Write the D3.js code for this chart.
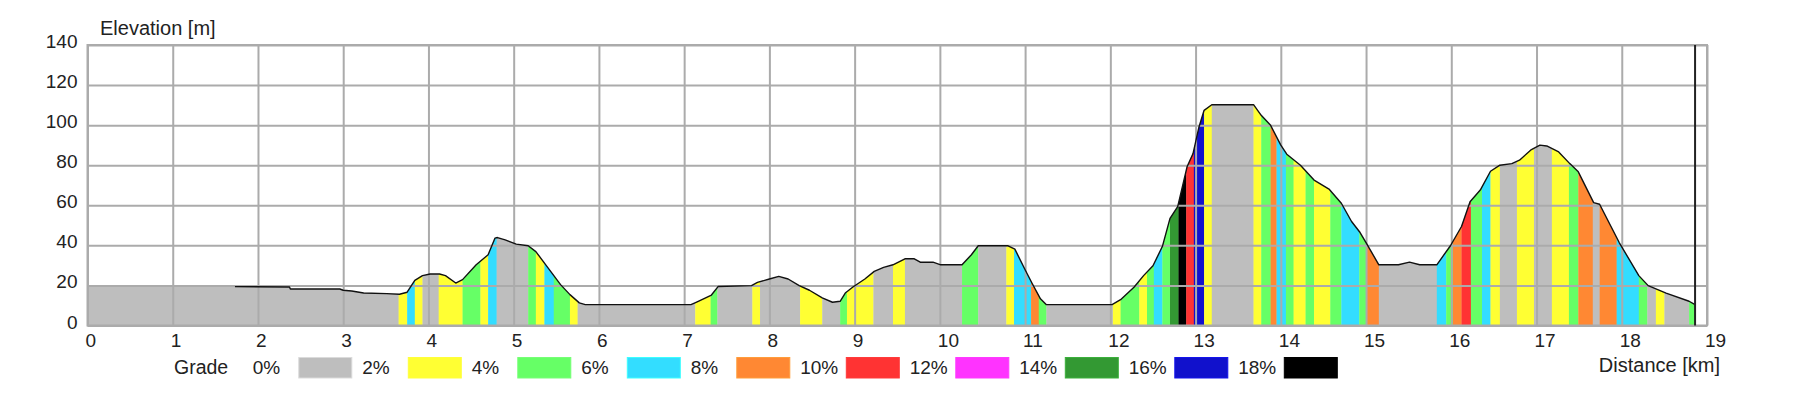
<!DOCTYPE html>
<html>
<head>
<meta charset="utf-8">
<script src="https://cdn.jsdelivr.net/npm/d3@7"></script>
<style>
    body { margin: 0; background: #fff; }
    text { font-family: "Liberation Sans", Arial, sans-serif; fill: #222; }
</style>
</head>
<body>
<div id="svg-container"></div>
<script>
// profile points: distance [km] and elevation [m]
distKm = [0, 1.72, 1.73, 2.37, 2.38, 2.96, 3.0, 3.10, 3.24, 3.51, 3.66, 3.75, 3.84, 3.93, 4.02, 4.13, 4.20, 4.32, 4.40, 4.56,
    4.70, 4.78, 4.81, 4.90, 5.03, 5.17, 5.26, 5.37, 5.55, 5.66, 5.77, 5.84, 7.08, 7.14, 7.32, 7.40, 7.79, 7.86, 8.0, 8.11,
    8.22, 8.35, 8.47, 8.62, 8.74, 8.83, 8.89, 8.98, 9.12, 9.23, 9.34, 9.45, 9.59, 9.70, 9.77, 9.92, 10.01, 10.26, 10.37, 10.45,
    10.80, 10.88, 11.0, 11.08, 11.18, 11.25, 12.02, 12.12, 12.28, 12.39, 12.50, 12.61, 12.70, 12.79, 12.90, 12.97, 13.04, 13.10, 13.19, 13.68,
    13.77, 13.88, 14.0, 14.07, 14.23, 14.39, 14.57, 14.71, 14.83, 14.93, 15.01, 15.15, 15.38, 15.51, 15.63, 15.83, 15.99, 16.12, 16.22, 16.34,
    16.46, 16.57, 16.71, 16.80, 16.94, 17.04, 17.12, 17.26, 17.39, 17.49, 17.67, 17.74, 17.97, 18.20, 18.31, 18.52, 18.79, 18.86]
elevM = [20, 20, 19.4, 19.2, 18.2, 18.2, 17.6, 17.2, 16.2, 15.9, 15.6, 16.6, 22.5, 24.9, 25.7, 25.7, 24.9, 21.2, 22.9, 30.3,
    35.3, 43.6, 43.9, 42.7, 40.6, 39.8, 36.9, 30.6, 20.4, 15.4, 11.3, 10.4, 10.4, 11.6, 15.2, 19.5, 19.9, 21.5, 23.2, 24.5,
    23.2, 19.9, 17.6, 13.8, 11.6, 12.1, 16.2, 19.2, 23.2, 27.0, 29.0, 30.3, 33.3, 33.3, 31.6, 31.6, 30.3, 30.3, 35.3, 39.8,
    39.8, 38.1, 27.8, 21.2, 13.3, 10.4, 10.4, 12.9, 19.2, 24.9, 29.8, 39.4, 53.5, 59.3, 79.2, 85.8, 99.1, 107.4, 110.2, 110.2,
    104.9, 99.9, 90.0, 85.5, 80.0, 72.6, 67.9, 61.0, 51.9, 46.4, 40.6, 30.3, 30.3, 31.6, 30.3, 30.3, 39.8, 49.4, 61.8, 67.6,
    77.0, 80.0, 80.8, 82.5, 87.8, 90.0, 89.6, 86.6, 80.8, 76.7, 61.3, 60.5, 41.4, 24.9, 19.9, 16.2, 12.1, 10.4]
lineFromKm = 1.73   // outline is only drawn from here on
endKm = 18.86

// grade bands: edges [km] and grade class (index into gradeColors)
bandEdges = [0, 3.65, 3.75, 3.84, 3.93, 4.12, 4.40, 4.61, 4.70, 4.80, 5.17, 5.26, 5.36, 5.47, 5.66, 5.75, 7.13, 7.31, 7.39, 7.80,
    7.89, 8.36, 8.62, 8.83, 8.91, 9.22, 9.45, 9.59, 10.26, 10.45, 10.78, 10.87, 11.07, 11.16, 11.25, 12.03, 12.12, 12.34, 12.43, 12.51,
    12.61, 12.70, 12.80, 12.89, 12.98, 13.10, 13.19, 13.68, 13.77, 13.88, 13.95, 14.06, 14.15, 14.29, 14.39, 14.58, 14.71, 14.92, 15.01, 15.15,
    15.83, 15.94, 16.02, 16.12, 16.23, 16.36, 16.46, 16.57, 16.77, 16.97, 17.18, 17.38, 17.49, 17.66, 17.74, 17.94, 18.20, 18.30, 18.40, 18.50,
    18.79, 18.86]
bandClass = [0, 1, 3, 1, 0, 1, 2, 1, 3, 0, 2, 1, 3, 2, 1, 0, 1, 2, 0, 1,
    0, 1, 0, 2, 1, 0, 1, 0, 2, 0, 1, 3, 4, 2, 0, 1, 2, 1, 2, 3,
    2, 7, 9, 5, 8, 1, 0, 1, 2, 4, 3, 2, 1, 2, 1, 2, 3, 2, 4, 0,
    3, 2, 4, 5, 2, 3, 1, 0, 1, 0, 1, 2, 4, 0, 4, 3, 2, 0, 1, 0,
    2]

gradeLabels = ["0%", "2%", "4%", "6%", "8%", "10%", "12%", "14%", "16%", "18%"]
gradeColors = ["#bebebe", "#ffff33", "#66ff66", "#33ddff", "#ff8833", "#ff3333", "#ff33ff", "#339933", "#1111cc", "#000000"]

yTicks = [0, 20, 40, 60, 80, 100, 120, 140]

svg = d3.select("#svg-container")
    .append("svg")
    .attr("width", 1815)
    .attr("height", 395)

x = d3.scaleLinear().domain([0, 19]).range([87.5, 1707])
y = d3.scaleLinear().domain([0, 140]).range([325.5, 45])

points = distKm.map((d, i) => [d, elevM[i]])

area = d3.area()
    .x((d) => x(d[0]))
    .y0(y(0))
    .y1((d) => y(d[1]))

svg.append("clipPath")
    .attr("id", "profile-clip")
    .append("path")
    .attr("d", area(points))

// colored grade bands under the profile
bands = bandClass.map((c, i) => ({ from: bandEdges[i], to: bandEdges[i + 1], c: c }))

svg.append("g")
    .attr("clip-path", "url(#profile-clip)")
    .selectAll("rect")
    .data(bands)
    .enter()
    .append("rect")
    .attr("x", (d) => x(d.from))
    .attr("y", y(140))
    .attr("width", (d) => x(d.to) - x(d.from) + 0.3)
    .attr("height", y(0) - y(140))
    .attr("fill", (d) => gradeColors[d.c])

// grid + axes
xAxis = svg.append("g")
    .attr("transform", "translate(0," + y(0) + ")")
    .call(d3.axisBottom(x).ticks(19).tickSize(-(y(0) - y(140))).tickFormat(d3.format("d")))
xAxis.select(".domain").remove()
xAxis.selectAll("line").attr("stroke", "#ababab").attr("stroke-width", 2)
xAxis.selectAll("text")
    .attr("font-size", "19px")
    .attr("text-anchor", "start")
    .attr("x", -2.5)
    .attr("y", 21)
    .attr("dy", null)
    .attr("fill", "#222")

yAxis = svg.append("g")
    .attr("transform", "translate(" + x(0) + ",0)")
    .call(d3.axisLeft(y).tickValues(yTicks).tickSize(-(x(19) - x(0))))
yAxis.select(".domain").remove()
yAxis.selectAll("line").attr("stroke", "#ababab").attr("stroke-width", 2)
yAxis.selectAll("text")
    .attr("font-size", "19px")
    .attr("x", -10)
    .attr("y", 2.5)
    .attr("dy", null)
    .attr("fill", "#222")

svg.append("rect")
    .attr("x", x(0))
    .attr("y", y(140))
    .attr("width", x(19) - x(0))
    .attr("height", y(0) - y(140))
    .attr("fill", "none")
    .attr("stroke", "#ababab")
    .attr("stroke-width", 2)

// profile outline
line = d3.line()
    .x((d) => x(d[0]))
    .y((d) => y(d[1]))

svg.append("path")
    .attr("d", line(points.filter((d) => d[0] >= lineFromKm)))
    .attr("fill", "none")
    .attr("stroke", "#111")
    .attr("stroke-width", 1.4)
    .attr("stroke-linejoin", "round")

// end marker
svg.append("line")
    .attr("x1", x(endKm))
    .attr("x2", x(endKm))
    .attr("y1", y(140))
    .attr("y2", y(0))
    .attr("stroke", "#222")
    .attr("stroke-width", 2)

// titles
svg.append("text")
    .attr("x", 100)
    .attr("y", 35)
    .attr("font-size", "20px")
    .text("Elevation [m]")

svg.append("text")
    .attr("x", 1720)
    .attr("y", 372)
    .attr("font-size", "20px")
    .attr("text-anchor", "end")
    .text("Distance [km]")

// legend
legendX = d3.scaleLinear().domain([0, gradeLabels.length - 1]).range([298.3, 1283.8])

svg.append("text")
    .attr("x", 174)
    .attr("y", 374)
    .attr("font-size", "19.5px")
    .text("Grade")

legend = svg.selectAll(".legend-item")
    .data(gradeLabels)
    .enter()
    .append("g")
    .attr("class", "legend-item")

legend.append("text")
    .attr("x", (d, i) => legendX(i) - 45.6)
    .attr("y", 374)
    .attr("font-size", "19px")
    .text((d) => d)

legend.append("rect")
    .attr("x", (d, i) => legendX(i) + 0.5)
    .attr("y", 357.5)
    .attr("width", 53)
    .attr("height", 20.5)
    .attr("fill", (d, i) => gradeColors[i])
    .attr("stroke", (d, i) => d3.color(gradeColors[i]).brighter(0.4))
    .attr("stroke-width", 1)
</script>
</body>
</html>
